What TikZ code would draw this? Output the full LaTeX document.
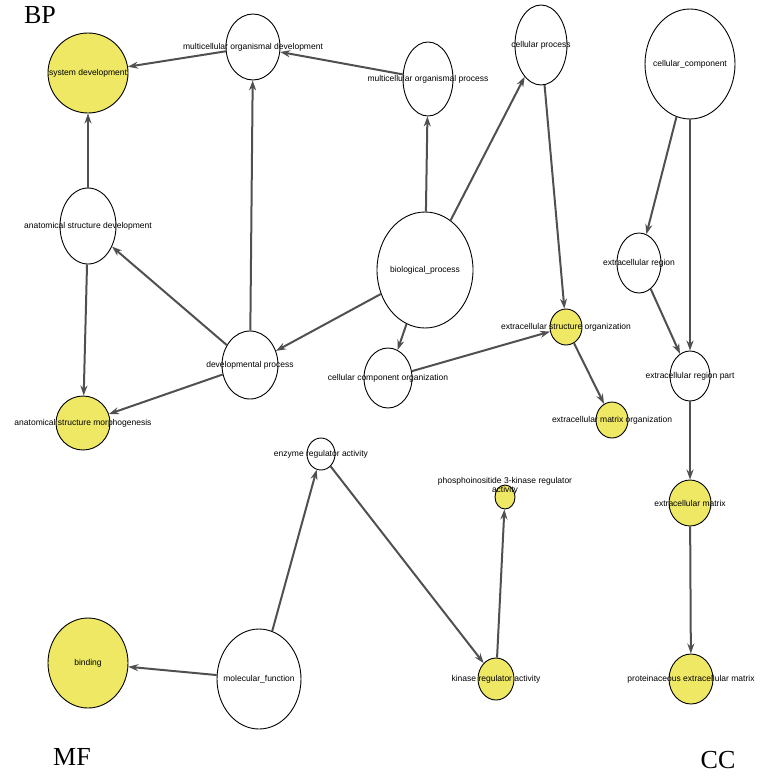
\documentclass[tikz,border=0pt]{standalone}
\usepackage{fontspec}
\setmainfont{Liberation Sans}
\newfontfamily\serifbig{Liberation Serif}
\usetikzlibrary{shapes.geometric,arrows.meta}
\definecolor{yel}{RGB}{238,232,100}
\definecolor{edge}{RGB}{80,80,80}
\tikzset{
  go/.style={ellipse,draw=black,line width=0.9pt,fill=white,inner sep=0pt},
  goy/.style={go,fill=yel},
  lab/.style={font=\fontsize{8.5}{9.5}\selectfont,align=center},
  conn/.style={draw=edge,line width=2pt,-{Stealth[length=10pt,width=7pt]}},
  big/.style={font=\serifbig\fontsize{26}{28}\selectfont}
}
\newcommand{\gonode}[6]{% name, style, x, y, rx, ry
  \node[#2,minimum width=#5*2pt,minimum height=#6*2pt] (#1) at (#3,#4) {};}
\begin{document}
\begin{tikzpicture}[x=1pt,y=-1pt]
\useasboundingbox (0,0) rectangle (778,777);
\gonode{sd}{goy}{88}{73}{40}{40}
\gonode{mod}{go}{253}{47}{27}{33}
\gonode{mop}{go}{428}{79}{25}{37}
\gonode{cp}{go}{541}{45}{26}{40}
\gonode{cc}{go}{690}{64}{45}{55}
\gonode{asd}{go}{88}{226}{28}{38}
\gonode{bp}{go}{425}{270}{48}{58}
\gonode{er}{go}{639}{263}{22}{30}
\gonode{eso}{goy}{566}{327}{16}{18}
\gonode{dp}{go}{250}{365}{28}{34}
\gonode{cco}{go}{388}{378}{24}{30}
\gonode{erp}{go}{690}{376}{20}{25}
\gonode{asm}{goy}{83}{423}{27}{27}
\gonode{emo}{goy}{612}{420}{16}{18}
\gonode{pi}{goy}{505}{497}{10}{12}
\gonode{era}{go}{321}{454}{14}{16}
\gonode{em}{goy}{690}{503}{21}{23}
\gonode{bi}{goy}{88}{663}{40}{45}
\gonode{mf}{go}{259}{679}{42}{50}
\gonode{kra}{goy}{496}{679}{18}{21}
\gonode{pem}{goy}{691}{679}{22}{25}

\node[lab] at (sd) {system development};
\node[lab] at (mod) {multicellular organismal development};
\node[lab] at (mop) {multicellular organismal process};
\node[lab] at (cp) {cellular process};
\node[lab] at (cc) {cellular\_component};
\node[lab] at (asd) {anatomical structure development};
\node[lab] at (bp) {biological\_process};
\node[lab] at (er) {extracellular region};
\node[lab] at (eso) {extracellular structure organization};
\node[lab] at (dp) {developmental process};
\node[lab] at (cco) {cellular component organization};
\node[lab] at (erp) {extracellular region part};
\node[lab] at (asm) {anatomical structure morphogenesis};
\node[lab] at (emo) {extracellular matrix organization};
\node[lab] at (505,486) {phosphoinositide 3-kinase regulator\\activity};
\node[lab] at (era) {enzyme regulator activity};
\node[lab] at (em) {extracellular matrix};
\node[lab] at (bi) {binding};
\node[lab] at (mf) {molecular\_function};
\node[lab] at (kra) {kinase regulator activity};
\node[lab] at (pem) {proteinaceous extracellular matrix};

\draw[conn] (mod) -- (sd);
\draw[conn] (mop) -- (mod);
\draw[conn] (asd) -- (sd);
\draw[conn] (dp) -- (mod);
\draw[conn] (dp) -- (asd);
\draw[conn] (bp) -- (mop);
\draw[conn] (bp) -- (cp);
\draw[conn] (bp) -- (dp);
\draw[conn] (bp) -- (cco);
\draw[conn] (cp) -- (eso);
\draw[conn] (cco) -- (eso);
\draw[conn] (asd) -- (asm);
\draw[conn] (dp) -- (asm);
\draw[conn] (eso) -- (emo);
\draw[conn] (cc) -- (er);
\draw[conn] (cc) -- (erp);
\draw[conn] (er) -- (erp);
\draw[conn] (erp) -- (em);
\draw[conn] (em) -- (pem);
\draw[conn] (mf) -- (bi);
\draw[conn] (mf) -- (era);
\draw[conn] (era) -- (kra);
\draw[conn] (kra) -- (pi);

\node[big] (tbp) at (40,15) {BP};
\node[big] (tmf) at (72,757) {MF};
\node[big] (tcc) at (718,760) {CC};
\end{tikzpicture}
\end{document}
